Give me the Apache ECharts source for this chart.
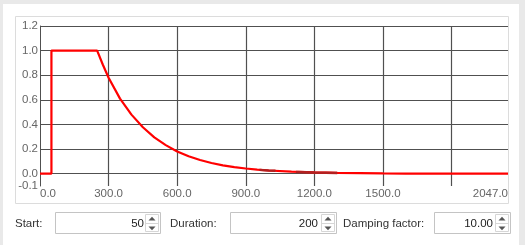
<!DOCTYPE html>
<html>
<head>
<meta charset="utf-8">
<script src="https://cdn.jsdelivr.net/npm/echarts@6/dist/echarts.min.js"></script>
<style>
html,body{margin:0;padding:0;background:#e9e9e9;}
#chart{width:525px;height:245px;}
</style>
</head>
<body>
<div id="chart"></div>
<script>
// ---- data ----
const timeValues = [0, 50, 50, 250, 275, 300, 350, 400, 450, 500, 550, 600, 650, 700, 750, 800, 850, 900, 950, 1000, 1100, 1200, 1300, 1400, 1500, 1600, 1800, 2047];
const amplitude  = [0, 0, 1, 1, 0.885, 0.78, 0.61, 0.48, 0.377, 0.295, 0.232, 0.181, 0.142, 0.111, 0.087, 0.068, 0.054, 0.042, 0.033, 0.026, 0.016, 0.010, 0.006, 0.004, 0.002, 0.001, 0, 0];
const overlapTimes = [960, 1000, 1030, null, 1120, 1200, 1300];
const overlapAmp   = [0.031, 0.026, 0.023, null, 0.014, 0.010, 0.006];
const xTickLabels = [0, 300, 600, 900, 1200, 1500, 2047];
const xGridValues = [300, 600, 900, 1200, 1500, 1800];
const yTickLabels = [-0.1, 0.0, 0.2, 0.4, 0.6, 0.8, 1.0, 1.2];
const yGridValues = [0.0, 0.2, 0.4, 0.6, 0.8, 1.0, 1.2];
const controlLabels = ['Start:', 'Duration:', 'Damping factor:'];
const controlValues = ['50', '200', '10.00'];

// ---- layout ----
const labelX = [15, 170, 343];
const boxL = [55, 230, 434];
const boxR = [160, 336, 510];
const textR = [144, 318, 493];
const FONT = 'Liberation Sans';

const chart = echarts.init(document.getElementById('chart'));

const graphics = [
  {type: 'rect', z: -10, shape: {x: 3, y: 4, width: 516, height: 245}, style: {fill: '#ffffff'}},
  {type: 'rect', z: -9, shape: {x: 15.5, y: 16.5, width: 493, height: 187}, style: {fill: '#ffffff', stroke: '#dcdcdc', lineWidth: 1}}
];
for (let i = 0; i < controlLabels.length; i++) {
  graphics.push({type: 'text', z: 10, x: labelX[i], y: 224, style: {text: controlLabels[i], fill: '#333333', font: '11.5px "' + FONT + '"', verticalAlign: 'middle', align: 'left'}});
  graphics.push({type: 'rect', z: 10, shape: {x: boxL[i] + 0.5, y: 212.5, width: boxR[i] - boxL[i], height: 21}, style: {fill: '#ffffff', stroke: '#c4c4c4', lineWidth: 1}});
  graphics.push({type: 'text', z: 11, x: textR[i], y: 223.5, style: {text: controlValues[i], fill: '#222222', font: '11.5px "' + FONT + '"', verticalAlign: 'middle', align: 'right'}});
  const ax = boxR[i] - 14.5;
  graphics.push({type: 'rect', z: 11, shape: {x: ax, y: 214.5, width: 13, height: 17}, style: {fill: '#ffffff', stroke: '#d6d6d6', lineWidth: 1}});
  graphics.push({type: 'line', z: 12, shape: {x1: ax, y1: 223.5, x2: ax + 13, y2: 223.5}, style: {stroke: '#d6d6d6', lineWidth: 1}});
  const cx = ax + 6.5;
  graphics.push({type: 'polygon', z: 12, shape: {points: [[cx - 3.5, 220.5], [cx + 3.5, 220.5], [cx, 216.8]]}, style: {fill: '#555555'}});
  graphics.push({type: 'polygon', z: 12, shape: {points: [[cx - 3.5, 226.5], [cx + 3.5, 226.5], [cx, 230.2]]}, style: {fill: '#555555'}});
}

const gridColor = '#505050';
const markData = [];
xGridValues.forEach(v => markData.push({xAxis: v}));
yGridValues.forEach(v => markData.push({yAxis: v}));

chart.setOption({
  backgroundColor: '#e9e9e9',
  animation: false,
  graphic: {elements: graphics},
  grid: {left: 40, top: 26, right: 17, bottom: 59, containLabel: false},
  xAxis: {
    type: 'value', min: 0, max: 2047, interval: 300, z: 5,
    axisLine: {show: false}, axisTick: {show: false}, splitLine: {show: false},
    axisLabel: {
      customValues: xTickLabels,
      formatter: v => v.toFixed(1),
      color: '#666666', fontFamily: FONT, fontSize: 11.5, margin: 2,
      showMinLabel: true, showMaxLabel: true,
      alignMinLabel: 'left', alignMaxLabel: 'right'
    }
  },
  yAxis: {
    type: 'value', min: -0.1, max: 1.2, z: 5,
    axisLine: {show: true, lineStyle: {color: gridColor, width: 1}},
    axisTick: {show: false}, splitLine: {show: false},
    axisLabel: {
      customValues: yTickLabels,
      formatter: v => v.toFixed(1),
      color: '#666666', fontFamily: FONT, fontSize: 11.5, margin: 2,
      showMinLabel: true, showMaxLabel: true
    }
  },
  series: [
    {
      type: 'line', name: 'grid', data: [], z: 1, silent: true,
      markLine: {symbol: 'none', silent: true, label: {show: false},
        lineStyle: {color: gridColor, width: 1.2, type: 'solid'}, data: markData}
    },
    {
      type: 'line', name: 'signal', zlevel: 1, z: 3, symbol: 'none', showSymbol: false,
      lineStyle: {color: '#ff0000', width: 2.2},
      data: timeValues.map((t, i) => [t, amplitude[i]])
    },
    {
      type: 'line', name: 'overlap', zlevel: 1, z: 4, symbol: 'none', showSymbol: false, connectNulls: false,
      lineStyle: {color: '#b32020', width: 2.5},
      data: overlapTimes.map((t, i) => t === null ? [null, null] : [t, overlapAmp[i]])
    }
  ]
});
</script>
</body>
</html>
